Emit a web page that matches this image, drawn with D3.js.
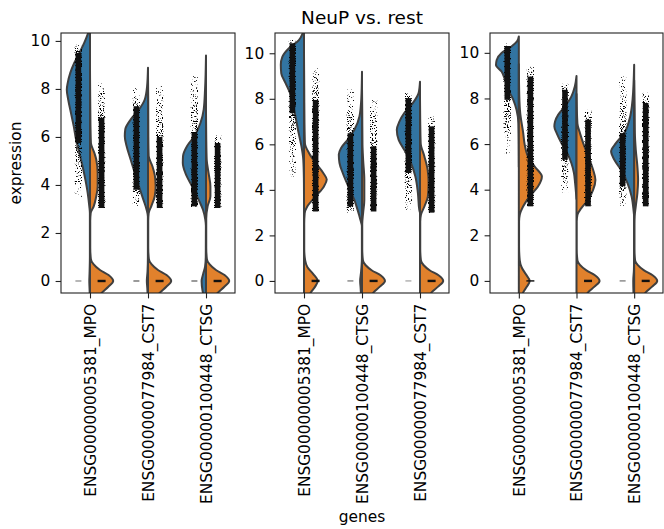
<!DOCTYPE html>
<html>
<head>
<meta charset="utf-8">
<script src="https://cdn.jsdelivr.net/npm/d3@7"></script>
<style>
  body { margin: 0; background: #fff; }
  svg { display: block; }
  text { font-family: "DejaVu Sans", sans-serif; fill: #000; }
</style>
</head>
<body>
<svg id="chart" width="664" height="529"></svg>
<script>
// genes per panel (x categories)
const genes1 = ["ENSG00000005381_MPO", "ENSG00000077984_CST7", "ENSG00000100448_CTSG"];
const genes2 = ["ENSG00000005381_MPO", "ENSG00000100448_CTSG", "ENSG00000077984_CST7"];
const genes3 = ["ENSG00000005381_MPO", "ENSG00000077984_CST7", "ENSG00000100448_CTSG"];

const yTicks = [0, 2, 4, 6, 8, 10];
const yDomains = [[-0.5, 10.33], [-0.53, 10.89], [-0.53, 10.87]];

// half-violin profiles: [expression, relative half width]
// NeuP (blue, left half)
const blue1 = [
  [[-0.8, 0], [-0.3, 0.02], [0, 0.03], [0.3, 0.02], [1, 0.005], [2.83, 0.005], [3.11, 0.03], [3.67, 0.1], [4.22, 0.2], [4.78, 0.32], [5.33, 0.46], [5.89, 0.6], [6.44, 0.7], [7.0, 0.82], [7.56, 0.94], [7.97, 1.0], [8.25, 0.96], [8.67, 0.85], [9.08, 0.68], [9.5, 0.46], [9.92, 0.25], [10.33, 0.08], [10.6, 0]],
  [[-0.8, 0], [-0.3, 0.03], [0, 0.05], [0.4, 0.02], [1, 0.005], [2.69, 0.005], [2.97, 0.06], [3.39, 0.2], [3.94, 0.39], [4.5, 0.57], [5.06, 0.75], [5.61, 0.92], [6.03, 1.0], [6.31, 0.98], [6.72, 0.75], [7.14, 0.39], [7.56, 0.14], [8.1, 0.04], [8.88, 0]],
  [[-0.8, 0.05], [-0.4, 0.15], [0, 0.19], [0.3, 0.12], [0.6, 0.04], [1.0, 0.01], [2.3, 0.005], [2.56, 0.03], [2.97, 0.13], [3.39, 0.32], [3.94, 0.6], [4.5, 0.89], [4.92, 1.0], [5.2, 0.99], [5.61, 0.82], [6.03, 0.5], [6.58, 0.24], [7.14, 0.1], [8.0, 0.04], [9.39, 0]]
];
const blue2 = [
  [[3.8, 0], [4.5, 0.005], [5.32, 0.03], [5.91, 0.11], [6.49, 0.23], [7.08, 0.34], [7.66, 0.46], [8.25, 0.6], [8.68, 0.79], [9.12, 0.98], [9.49, 1.0], [9.85, 0.93], [10.22, 0.65], [10.58, 0.22], [10.9, 0.05], [11.2, 0]],
  [[-0.8, 0.03], [-0.3, 0.06], [0, 0.08], [0.4, 0.04], [1, 0.005], [2.4, 0.005], [2.69, 0.07], [3.12, 0.19], [3.56, 0.33], [4.15, 0.59], [4.74, 0.83], [5.18, 0.97], [5.55, 1.0], [5.84, 0.9], [6.2, 0.62], [6.64, 0.33], [7.22, 0.11], [8.0, 0.03], [9.19, 0]],
  [[3.0, 0], [3.12, 0.03], [3.86, 0.09], [4.59, 0.2], [5.18, 0.39], [5.76, 0.68], [6.2, 0.92], [6.64, 1.0], [7.0, 0.89], [7.37, 0.68], [7.8, 0.32], [8.25, 0.06], [8.75, 0]]
];
const blue3 = [
  [[5.0, 0], [6.0, 0.005], [6.92, 0.02], [7.5, 0.1], [7.94, 0.24], [8.38, 0.46], [8.82, 0.6], [9.18, 0.75], [9.47, 0.99], [9.69, 0.96], [9.99, 0.75], [10.28, 0.32], [10.5, 0.08], [10.72, 0]],
  [[3.6, 0], [4.29, 0.06], [4.73, 0.11], [5.16, 0.22], [5.6, 0.4], [6.04, 0.65], [6.48, 0.86], [6.77, 0.96], [6.99, 0.93], [7.29, 0.79], [7.65, 0.5], [8.09, 0.22], [8.53, 0.07], [8.98, 0]],
  [[-0.8, 0.02], [0, 0.04], [0.5, 0.01], [1, 0.003], [2.8, 0.003], [3.12, 0.03], [3.7, 0.11], [4.29, 0.29], [4.87, 0.57], [5.31, 0.86], [5.68, 1.0], [6.04, 0.79], [6.48, 0.43], [7.06, 0.21], [7.94, 0.07], [9.48, 0]]
];
// rest (orange, right half)
const orange1 = [
  [[-0.8, 0.3], [-0.5, 0.5], [-0.25, 0.78], [0, 1.0], [0.25, 0.8], [0.46, 0.43], [0.7, 0.15], [0.9, 0.04], [1.4, 0.01], [2.5, 0.01], [2.83, 0.03], [3.11, 0.16], [3.53, 0.27], [3.94, 0.33], [4.5, 0.33], [5.06, 0.27], [5.33, 0.19], [5.75, 0.04], [6.5, 0.02], [7.5, 0.01], [8.8, 0]],
  [[-0.8, 0.3], [-0.5, 0.5], [-0.25, 0.78], [0, 1.0], [0.25, 0.8], [0.46, 0.43], [0.7, 0.15], [0.9, 0.04], [1.4, 0.01], [2.5, 0.01], [2.83, 0.03], [3.11, 0.14], [3.53, 0.29], [3.94, 0.33], [4.36, 0.3], [4.78, 0.19], [5.2, 0.03], [6, 0.015], [7.5, 0.01], [8.6, 0]],
  [[-0.8, 0.3], [-0.5, 0.5], [-0.25, 0.78], [0, 1.0], [0.25, 0.8], [0.46, 0.43], [0.7, 0.15], [0.9, 0.04], [1.4, 0.01], [2.6, 0.01], [3.11, 0.07], [3.53, 0.19], [3.94, 0.19], [4.5, 0.11], [5.06, 0.03], [6, 0.01], [7, 0]]
];
const orange2 = [
  [[-0.8, 0.15], [-0.5, 0.3], [-0.25, 0.48], [0, 0.59], [0.3, 0.4], [0.6, 0.15], [0.9, 0.05], [1.4, 0.01], [2.5, 0.01], [2.98, 0.03], [3.27, 0.14], [3.71, 0.5], [4.15, 0.86], [4.45, 0.98], [4.74, 0.83], [5.18, 0.5], [5.61, 0.22], [6.05, 0.04], [7, 0.02], [8.5, 0.01], [10, 0]],
  [[-0.8, 0.3], [-0.5, 0.5], [-0.25, 0.77], [0, 0.99], [0.25, 0.8], [0.46, 0.43], [0.7, 0.15], [0.9, 0.04], [1.4, 0.01], [2.5, 0.01], [3.0, 0.05], [3.56, 0.1], [4.44, 0.1], [5.3, 0.05], [6, 0.02], [7.5, 0.01], [8.5, 0]],
  [[-0.8, 0.3], [-0.5, 0.5], [-0.25, 0.78], [0, 1.0], [0.25, 0.8], [0.46, 0.43], [0.7, 0.15], [0.9, 0.04], [1.4, 0.01], [2.6, 0.01], [2.9, 0.04], [3.27, 0.19], [3.71, 0.34], [4.3, 0.37], [4.88, 0.33], [5.47, 0.19], [6.05, 0.03], [7, 0.01], [8, 0]]
];
const orange3 = [
  [[-0.8, 0.1], [-0.5, 0.19], [-0.25, 0.35], [0, 0.47], [0.3, 0.3], [0.6, 0.12], [0.9, 0.04], [1.5, 0.01], [2.6, 0.01], [2.9, 0.04], [3.27, 0.19], [3.71, 0.47], [4.14, 0.83], [4.58, 1.0], [5.02, 0.68], [5.45, 0.4], [6.0, 0.25], [6.48, 0.19], [7.36, 0.06], [8.09, 0.02], [9.5, 0]],
  [[-0.8, 0.3], [-0.5, 0.5], [-0.25, 0.78], [0, 1.0], [0.25, 0.8], [0.46, 0.43], [0.7, 0.15], [0.9, 0.04], [1.4, 0.01], [2.6, 0.01], [2.9, 0.04], [3.19, 0.21], [3.55, 0.5], [3.99, 0.72], [4.43, 0.82], [4.87, 0.72], [5.31, 0.57], [6.04, 0.29], [6.48, 0.15], [6.9, 0.04], [8.2, 0]],
  [[-0.8, 0.3], [-0.5, 0.5], [-0.25, 0.78], [0, 1.0], [0.25, 0.8], [0.46, 0.43], [0.7, 0.15], [0.9, 0.04], [1.4, 0.01], [2.5, 0.01], [2.83, 0.02], [3.27, 0.07], [3.85, 0.14], [4.43, 0.17], [5.02, 0.14], [5.75, 0.07], [6.5, 0.03], [7.5, 0.02], [8.8, 0]]
];

// strip points (non-zero cells): [sparse top, dense top, dense bottom, sparse bottom]
const stripBlue1 = [[9.85, 9.5, 5.75, 3.45], [8.04, 7.28, 3.8, 3.11], [8.6, 6.17, 3.11, 3.05]];
const stripBlue2 = [[10.6, 10.44, 7.37, 4.52], [8.46, 6.49, 3.27, 3.0], [8.28, 8.03, 4.74, 3.12]];
const stripBlue3 = [[10.43, 10.3, 7.94, 5.53], [8.67, 8.38, 5.31, 3.85], [8.97, 6.48, 4.15, 3.27]];
const stripOrange1 = [[8.25, 6.8, 3.04, 3.04], [8.15, 6.0, 3.04, 3.04], [6.1, 5.75, 3.04, 3.04]];
const stripOrange2 = [[9.49, 7.95, 3.05, 3.05], [8.02, 5.91, 3.05, 3.05], [7.22, 6.79, 3.0, 3.0]];
const stripOrange3 = [[9.4, 8.96, 3.27, 3.27], [7.5, 7.07, 3.27, 3.27], [8.25, 7.8, 3.27, 3.27]];

// cells at zero (relative amount)
const zeroBlue = [[0.5, 0.7, 0.7], [0, 0.6, 0.4], [0, 0, 0.6]];
const zeroOrange = [[1, 1, 1], [1, 1, 1], [0.6, 1, 1]];

const panels = [
  { genes: genes1, blue: blue1, orange: orange1, sb: stripBlue1, so: stripOrange1, x0: 61, x1: 235 },
  { genes: genes2, blue: blue2, orange: orange2, sb: stripBlue2, so: stripOrange2, x0: 275, x1: 449 },
  { genes: genes3, blue: blue3, orange: orange3, sb: stripBlue3, so: stripOrange3, x0: 490, x1: 663 }
];

const plotTop = 33, plotBottom = 293;
const blueColor = "#3274a1", orangeColor = "#e1812c", edge = "#3f3f3f";
const fontSize = 15.4;

const svg = d3.select("#chart");
const defs = svg.append("defs");

// speckle filter so the sparse ends of the strips read as scattered points
const speckle = defs.append("filter").attr("id", "speckle")
  .attr("filterUnits", "userSpaceOnUse").attr("x", 0).attr("y", 0).attr("width", 664).attr("height", 529)
  .attr("color-interpolation-filters", "sRGB");
speckle.append("feTurbulence").attr("type", "fractalNoise").attr("baseFrequency", 0.8)
  .attr("numOctaves", 2).attr("seed", 7).attr("result", "noise");
speckle.append("feColorMatrix").attr("in", "noise").attr("type", "matrix")
  .attr("values", "0 0 0 0 0  0 0 0 0 0  0 0 0 0 0  2.5 0 0 0 -0.75").attr("result", "na");
speckle.append("feComposite").attr("in", "SourceGraphic").attr("in2", "na")
  .attr("operator", "arithmetic").attr("k1", 0).attr("k2", 4).attr("k3", -4).attr("k4", 0);

panels.forEach((p, pi) => {
  const x = d3.scalePoint().domain(p.genes).range([p.x0, p.x1]).padding(0.5);
  const y = d3.scaleLinear().domain(yDomains[pi]).range([plotBottom, plotTop]);
  const step = x.step();
  const hw = 0.4 * step;

  defs.append("clipPath").attr("id", "clip" + pi)
    .append("rect").attr("x", p.x0).attr("y", plotTop).attr("width", p.x1 - p.x0).attr("height", plotBottom - plotTop);

  const g = svg.append("g").attr("clip-path", `url(#clip${pi})`);
  const gv = g.append("g");
  const gs = g.append("g").attr("filter", "url(#speckle)");
  const gd = g.append("g");

  p.genes.forEach((gene, i) => {
    const cx = x(gene);
    const blueArea = d3.area().curve(d3.curveMonotoneY)
      .y(d => y(d[0])).x0(cx).x1(d => cx - d[1] * hw);
    const orangeArea = d3.area().curve(d3.curveMonotoneY)
      .y(d => y(d[0])).x0(cx).x1(d => cx + d[1] * hw);

    gv.append("path").attr("d", blueArea(p.blue[i]))
      .attr("fill", blueColor).attr("stroke", edge).attr("stroke-width", 2).attr("stroke-linejoin", "round");
    gv.append("path").attr("d", orangeArea(p.orange[i]))
      .attr("fill", orangeColor).attr("stroke", edge).attr("stroke-width", 2).attr("stroke-linejoin", "round");

    // strips: speckled sparse part + solid dense core
    [[p.sb[i], cx - 0.2 * step, "b"], [p.so[i], cx + 0.2 * step, "o"]].forEach(([s, sx, k]) => {
      const id = `grad${pi}${i}${k}`;
      const y0 = y(s[0]), y3 = y(s[3]);
      const span = Math.max(y3 - y0, 1);
      const grad = defs.append("linearGradient").attr("id", id)
        .attr("gradientUnits", "userSpaceOnUse")
        .attr("x1", 0).attr("x2", 0).attr("y1", y0).attr("y2", y3);
      const stops = [
        [0, 0.18],
        [(y(s[1]) - y0) / span, 0.5],
        [(y(s[2]) - y0) / span, 0.5],
        [1, 0.18]
      ];
      stops.forEach(([o, a]) => grad.append("stop")
        .attr("offset", Math.min(1, Math.max(0, o))).attr("stop-color", "#000").attr("stop-opacity", a));
      gs.append("rect").attr("x", sx - 3.6).attr("width", 7.2)
        .attr("y", y0).attr("height", span).attr("fill", `url(#${id})`);
      gd.append("rect").attr("x", sx - 2.8).attr("width", 5.6)
        .attr("y", y(s[1])).attr("height", Math.max(y(s[2]) - y(s[1]), 0))
        .attr("fill", "#111");
    });

    // zero cells
    const zb = zeroBlue[pi][i], zo = zeroOrange[pi][i];
    if (zb > 0) {
      gd.append("rect").attr("x", cx - 0.2 * step - 3).attr("width", 6)
        .attr("y", y(0) - 0.6).attr("height", 1.2).attr("fill", "#111").attr("opacity", zb);
    }
    if (zo > 0) {
      gd.append("rect").attr("x", cx + 0.2 * step - 4).attr("width", 8)
        .attr("y", y(0) - 1.2 * zo).attr("height", 2.4 * zo).attr("fill", "#111");
    }
  });

  // frame
  svg.append("rect").attr("x", p.x0).attr("y", plotTop).attr("width", p.x1 - p.x0).attr("height", plotBottom - plotTop)
    .attr("fill", "none").attr("stroke", "#222").attr("stroke-width", 1.1);

  // y axis
  const ya = svg.append("g").attr("transform", `translate(${p.x0},0)`)
    .call(d3.axisLeft(y).tickValues(yTicks).tickSize(5.4).tickPadding(5.4));
  ya.select(".domain").remove();
  ya.selectAll("line").attr("stroke", "#222").attr("stroke-width", 1.1);
  ya.selectAll("text").style("font-size", fontSize + "px").style("font-family", "DejaVu Sans");

  // x axis
  const xa = svg.append("g").attr("transform", `translate(0,${plotBottom})`)
    .call(d3.axisBottom(x).tickSize(5.4));
  xa.select(".domain").remove();
  xa.selectAll("line").attr("stroke", "#222").attr("stroke-width", 1.1);
  xa.selectAll("text")
    .attr("transform", "rotate(-90)")
    .attr("x", -10.8).attr("y", 0).attr("dy", "0.35em")
    .style("text-anchor", "end")
    .style("font-size", fontSize + "px").style("font-family", "DejaVu Sans");
});

// title and labels
svg.append("text").attr("x", (275 + 449) / 2).attr("y", 23.5)
  .attr("text-anchor", "middle").style("font-size", "18.5px").text("NeuP vs. rest");
svg.append("text").attr("x", 362).attr("y", 522)
  .attr("text-anchor", "middle").style("font-size", fontSize + "px").text("genes");
svg.append("text").attr("transform", `translate(20.5,${(plotTop + plotBottom) / 2}) rotate(-90)`)
  .attr("text-anchor", "middle").style("font-size", fontSize + "px").text("expression");
</script>
</body>
</html>
